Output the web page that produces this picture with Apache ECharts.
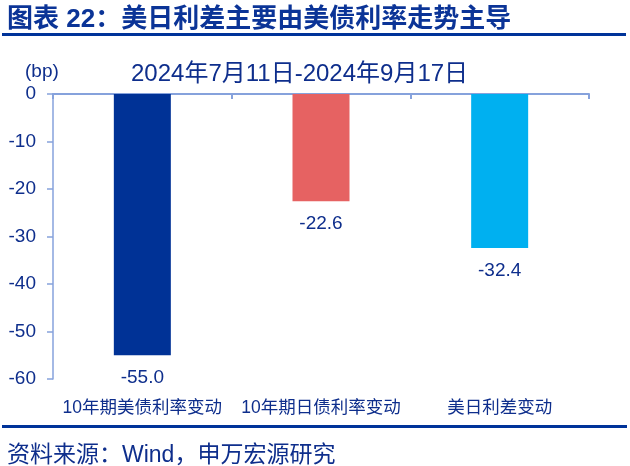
<!DOCTYPE html>
<html>
<head>
<meta charset="utf-8">
<script src="https://cdn.jsdelivr.net/npm/echarts@6/dist/echarts.min.js"></script>
<style>
  html, body { margin: 0; padding: 0; background: #fff; }
  #chartmain { width: 630px; height: 466px; }
</style>
</head>
<body>
<div id="chartmain"></div>
<script>
// 数据
var categories = ['10年期美债利率变动', '10年期日债利率变动', '美日利差变动'];
var changes = [-55.0, -22.6, -32.4];
var barColors = ['#003296', '#E66262', '#00B0F0'];
var yTicks = { min: -60, max: 0, interval: 10 };

var fontMix = '"Liberation Sans", "Noto Sans CJK SC", sans-serif';
var textBlue = '#0E2E8C';
var axisBlue = '#86A2DC';

var chart = echarts.init(document.getElementById('chartmain'));

chart.setOption({
  animation: false,
  title: [
    {
      text: '图表 22：美日利差主要由美债利率走势主导',
      left: 2, top: 2,
      textStyle: { color: '#0B3497', fontSize: 26, fontWeight: 'bold', fontFamily: fontMix }
    },
    {
      text: '2024年7月11日-2024年9月17日',
      left: 126, top: 57,
      textStyle: { color: textBlue, fontSize: 24, fontWeight: 'normal', fontFamily: fontMix }
    },
    {
      text: '(bp)',
      left: 20, top: 57,
      textStyle: { color: textBlue, fontSize: 19, fontWeight: 'normal', fontFamily: fontMix }
    },
    {
      text: '资料来源：Wind，申万宏源研究',
      left: 2, top: 439,
      textStyle: { color: textBlue, fontSize: 23, fontWeight: 'normal', fontFamily: fontMix }
    }
  ],
  graphic: [
    { type: 'rect', shape: { x: 2, y: 33, width: 624, height: 3 }, style: { fill: '#003399' } },
    { type: 'rect', shape: { x: 2, y: 425, width: 625, height: 3 }, style: { fill: '#003399' } }
  ],
  grid: { left: 53, right: 41, top: 94, bottom: 87 },
  xAxis: [
    {
      type: 'category',
      data: categories,
      position: 'bottom',
      axisLine: { show: false },
      axisTick: { show: false },
      axisLabel: { color: textBlue, fontSize: 17.5, fontFamily: fontMix, margin: 20, interval: 0 }
    },
    {
      type: 'category',
      data: categories,
      position: 'top',
      axisLine: { show: true, lineStyle: { color: axisBlue, width: 2 } },
      axisTick: { show: true, inside: true, length: 5, lineStyle: { color: axisBlue, width: 2 } },
      axisLabel: { show: false }
    }
  ],
  yAxis: {
    type: 'value',
    min: yTicks.min,
    max: yTicks.max,
    interval: yTicks.interval,
    axisLine: { show: true, onZero: false, lineStyle: { color: axisBlue, width: 1.5 } },
    axisTick: { show: true, length: 6, lineStyle: { color: axisBlue, width: 1.5 } },
    splitLine: { show: false },
    axisLabel: { color: textBlue, fontSize: 19, fontFamily: fontMix, margin: 17 }
  },
  series: [
    {
      type: 'bar',
      xAxisIndex: 0,
      barWidth: 57,
      data: changes.map(function (v, i) {
        return { value: v, itemStyle: { color: barColors[i] } };
      }),
      label: {
        show: true,
        position: 'bottom',
        distance: 13,
        color: textBlue,
        fontSize: 19,
        fontFamily: fontMix,
        formatter: function (p) { return p.value.toFixed(1); }
      }
    }
  ]
});
</script>
</body>
</html>
